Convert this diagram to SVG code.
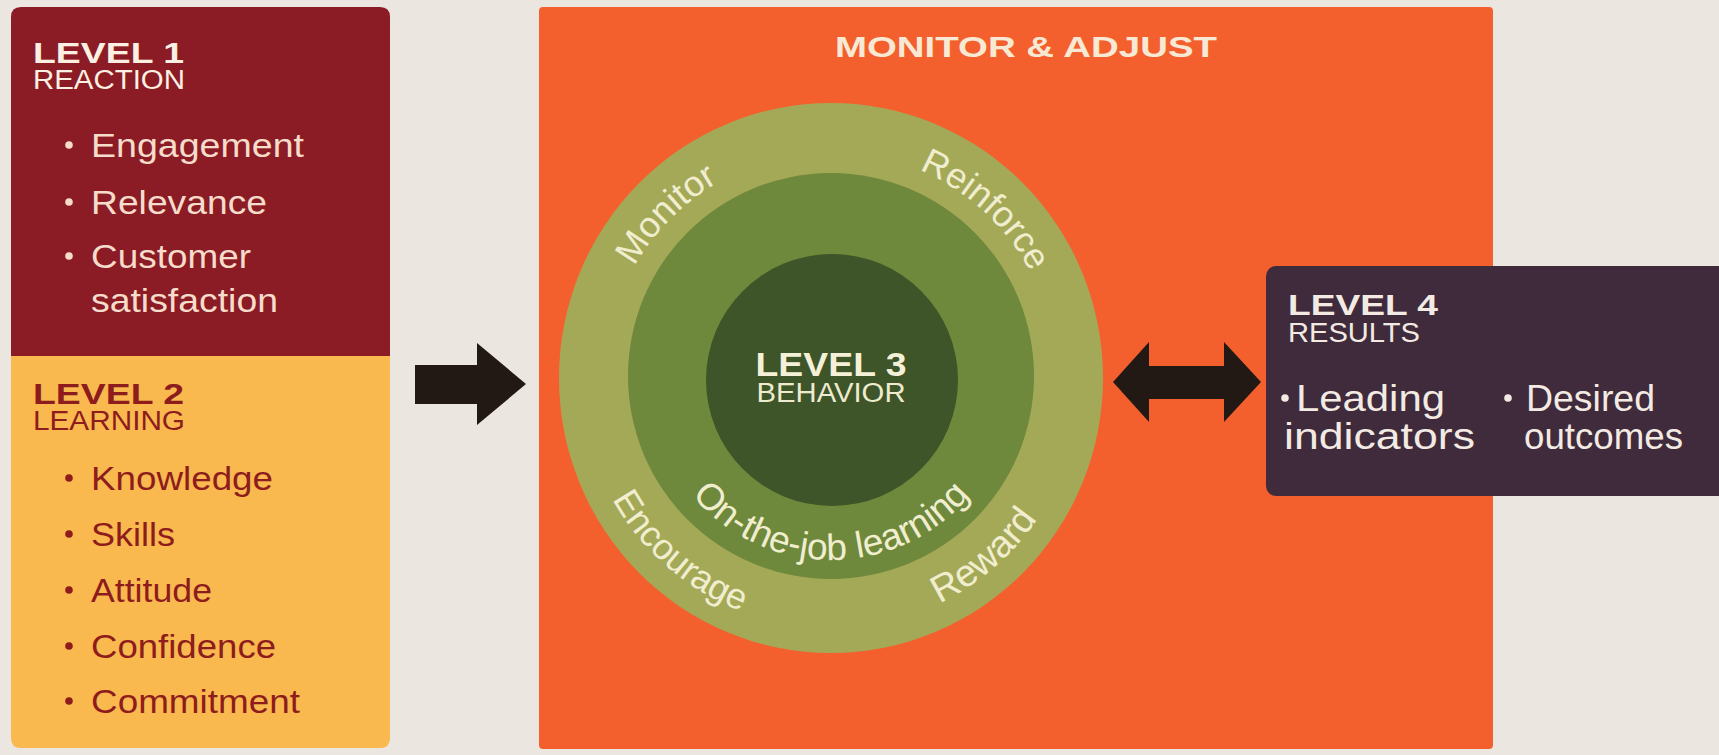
<svg xmlns="http://www.w3.org/2000/svg" xmlns:xlink="http://www.w3.org/1999/xlink" width="1719" height="755" viewBox="0 0 1719 755">
  <style>
    text { font-family: "Liberation Sans", Arial, sans-serif; }
    .hd { font-weight: bold; font-size: 30px; }
    .sub { font-size: 27px; }
    .item { font-size: 33px; }
    .lt { fill: #f6dccb; }
    .lthd { fill: #fbf0e2; }
    .dk { fill: #8e1c1d; }
    .ring { font-size: 36px; fill: #f1edcf; }
    .res { fill: #f3ebe3; }
    .res4 { font-size: 36px; }
    .arrow { fill: #221915; }
  </style>
  <defs>
    <!-- baseline arcs for ring captions (centre 831,378) -->
    <path id="arcTopOuter" d="M 605 378 A 226 226 0 0 1 1057 378"/>
    <path id="arcBotOuter" d="M 581 378 A 250 250 0 0 0 1081 378"/>
    <path id="arcBotMid" d="M 649 378 A 182 182 0 0 0 1013 378"/>
  </defs>

  <rect x="0" y="0" width="1719" height="755" fill="#ebe6e0"/>

  <!-- Level 1 / Level 2 column -->
  <g id="level1">
    <path d="M 11 357 V 17 Q 11 7 21 7 H 380 Q 390 7 390 17 V 357 Z" fill="#8b1b24"/>
    <text class="hd lthd" x="33" y="63" textLength="151" lengthAdjust="spacingAndGlyphs">LEVEL 1</text>
    <text class="sub lthd" x="33" y="89" textLength="152" lengthAdjust="spacingAndGlyphs">REACTION</text>
    <g class="lt">
      <circle cx="69" cy="145" r="3.8"/>
      <text class="item" x="91" y="157" textLength="213" lengthAdjust="spacingAndGlyphs">Engagement</text>
      <circle cx="69" cy="202" r="3.8"/>
      <text class="item" x="91" y="214" textLength="176" lengthAdjust="spacingAndGlyphs">Relevance</text>
      <circle cx="69" cy="256" r="3.8"/>
      <text class="item" x="91" y="268" textLength="160" lengthAdjust="spacingAndGlyphs">Customer</text>
      <text class="item" x="91" y="312" textLength="187" lengthAdjust="spacingAndGlyphs">satisfaction</text>
    </g>
  </g>

  <g id="level2">
    <path d="M 11 356 H 390 V 738 Q 390 748 380 748 H 21 Q 11 748 11 738 Z" fill="#f9b94f"/>
    <text class="hd dk" x="33" y="404" textLength="151" lengthAdjust="spacingAndGlyphs">LEVEL 2</text>
    <text class="sub dk" x="33" y="430" textLength="152" lengthAdjust="spacingAndGlyphs">LEARNING</text>
    <g class="dk">
      <circle cx="69" cy="478" r="3.8"/>
      <text class="item" x="91" y="490" textLength="182" lengthAdjust="spacingAndGlyphs">Knowledge</text>
      <circle cx="69" cy="534" r="3.8"/>
      <text class="item" x="91" y="546" textLength="84" lengthAdjust="spacingAndGlyphs">Skills</text>
      <circle cx="69" cy="590" r="3.8"/>
      <text class="item" x="91" y="602" textLength="121" lengthAdjust="spacingAndGlyphs">Attitude</text>
      <circle cx="69" cy="646" r="3.8"/>
      <text class="item" x="91" y="658" textLength="185" lengthAdjust="spacingAndGlyphs">Confidence</text>
      <circle cx="69" cy="701" r="3.8"/>
      <text class="item" x="91" y="713" textLength="209" lengthAdjust="spacingAndGlyphs">Commitment</text>
    </g>
  </g>

  <!-- Monitor & adjust panel -->
  <g id="monitor-adjust">
    <rect x="539" y="7" width="954" height="742" rx="4" fill="#f4602d"/>
    <text class="hd" x="835" y="57" fill="#f8e9d4" textLength="382" lengthAdjust="spacingAndGlyphs">MONITOR &amp; ADJUST</text>
  </g>

  <!-- Level 3 rings -->
  <g id="level3">
    <ellipse cx="831" cy="378" rx="272" ry="275" fill="#a4a958"/>
    <circle cx="831" cy="376" r="203" fill="#6e893b"/>
    <circle cx="832" cy="380" r="126" fill="#3e5429"/>
    <text class="ring"><textPath xlink:href="#arcTopOuter" href="#arcTopOuter" startOffset="24.9%" text-anchor="middle">Monitor</textPath></text>
    <text class="ring"><textPath xlink:href="#arcTopOuter" href="#arcTopOuter" startOffset="73.6%" text-anchor="middle">Reinforce</textPath></text>
    <text class="ring"><textPath xlink:href="#arcBotOuter" href="#arcBotOuter" startOffset="27.2%" text-anchor="middle">Encourage</textPath></text>
    <text class="ring" style="font-size:38px"><textPath xlink:href="#arcBotOuter" href="#arcBotOuter" startOffset="72.6%" text-anchor="middle">Reward</textPath></text>
    <text class="ring" style="font-size:37px"><textPath xlink:href="#arcBotMid" href="#arcBotMid" startOffset="50%" text-anchor="middle">On-the-job learning</textPath></text>
    <text class="hd" x="831" y="376" fill="#f4f1d8" text-anchor="middle" style="font-size:33px" textLength="151" lengthAdjust="spacingAndGlyphs">LEVEL 3</text>
    <text class="sub" x="831" y="402" fill="#eeebcf" text-anchor="middle" textLength="149" lengthAdjust="spacingAndGlyphs">BEHAVIOR</text>
  </g>

  <!-- Level 4 box -->
  <g id="level4">
    <rect x="1266" y="266" width="480" height="230" rx="10" fill="#3f2b3c"/>
    <g class="res">
      <text class="hd" x="1288" y="315" textLength="150" lengthAdjust="spacingAndGlyphs">LEVEL 4</text>
      <text class="sub" x="1288" y="342" textLength="132" lengthAdjust="spacingAndGlyphs">RESULTS</text>
      <circle cx="1285" cy="398" r="3.8"/>
      <text class="res4" x="1296" y="411" textLength="149" lengthAdjust="spacingAndGlyphs">Leading</text>
      <text class="res4" x="1284" y="449" textLength="191" lengthAdjust="spacingAndGlyphs">indicators</text>
      <circle cx="1508" cy="398" r="3.8"/>
      <text class="res4" x="1526" y="411" textLength="129" lengthAdjust="spacingAndGlyphs">Desired</text>
      <text class="res4" x="1524" y="449" textLength="159" lengthAdjust="spacingAndGlyphs">outcomes</text>
    </g>
  </g>

  <!-- connectors -->
  <g id="connectors" class="arrow">
    <polygon points="415,365 477,365 477,343 526,384 477,425 477,404 415,404"/>
    <polygon points="1113,382 1149,342 1149,366 1224,366 1224,342 1261,382 1224,422 1224,399 1149,399 1149,422"/>
  </g>
</svg>
